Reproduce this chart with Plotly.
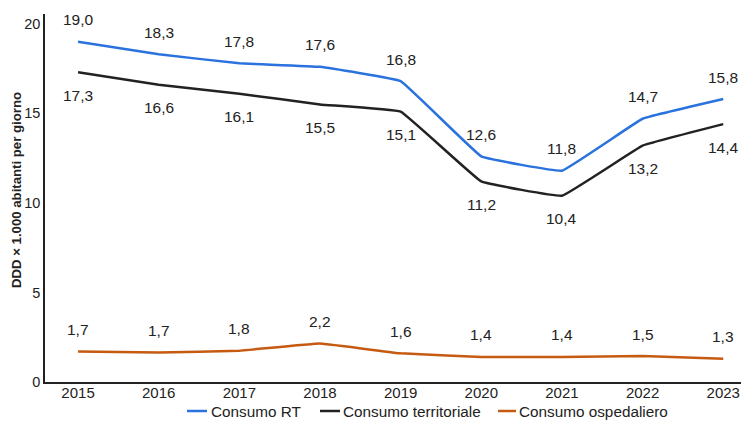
import plotly.graph_objects as go

years = [2015, 2016, 2017, 2018, 2019, 2020, 2021, 2022, 2023]
consumo_rt = [19.0, 18.3, 17.8, 17.6, 16.8, 12.6, 11.8, 14.7, 15.8]
consumo_territoriale = [17.3, 16.6, 16.1, 15.5, 15.1, 11.2, 10.4, 13.2, 14.4]
consumo_ospedaliero = [1.7, 1.65, 1.75, 2.15, 1.6, 1.4, 1.4, 1.45, 1.3]
labels_rt = ["19,0", "18,3", "17,8", "17,6", "16,8", "12,6", "11,8", "14,7", "15,8"]
labels_terr = ["17,3", "16,6", "16,1", "15,5", "15,1", "11,2", "10,4", "13,2", "14,4"]
labels_osp = ["1,7", "1,7", "1,8", "2,2", "1,6", "1,4", "1,4", "1,5", "1,3"]
y_ticks = [0, 5, 10, 15, 20]

FONT = "Liberation Sans, Arial, sans-serif"
TXT = "#222222"
series = [
    ("Consumo RT", consumo_rt, labels_rt, "#2a72de", 22),
    ("Consumo territoriale", consumo_territoriale, labels_terr, "#222222", -23),
    ("Consumo ospedaliero", consumo_ospedaliero, labels_osp, "#c55a11", 22),
]

# plot area in page pixels (page body adds 8px offset; margins compensate)
PX_L, PX_R, PX_T, PX_B = 45, 745, 14, 382
def px_x(p):
    return (p - PX_L) / (PX_R - PX_L)
def px_y(p):
    return (PX_B - p) / (PX_B - PX_T)

fig = go.Figure()
annotations = []
shapes = []
for name, vals, labs, color, shift in series:
    fig.add_trace(go.Scatter(
        x=years, y=vals, mode="lines", name=name, showlegend=False,
        line=dict(color=color, width=2.5, shape="spline", smoothing=0.2),
        hoverinfo="skip",
    ))
    for x, y, t in zip(years, vals, labs):
        annotations.append(dict(x=x, y=y, text=t, showarrow=False, yshift=shift,
                                font=dict(family=FONT, size=15.5, color=TXT)))

# legend drawn below the axis
legend_pos = [(187, 207, 210), (320, 340, 342), (498, 516, 518)]
leg_y = px_y(411)
for (name, _, _, color, _), (s0, s1, t0) in zip(series, legend_pos):
    shapes.append(dict(type="line", xref="paper", yref="paper",
                       x0=px_x(s0), x1=px_x(s1), y0=leg_y, y1=leg_y,
                       line=dict(color=color, width=2.5)))
    annotations.append(dict(xref="paper", yref="paper", x=px_x(t0 - 1), y=leg_y,
                            xanchor="left", yanchor="middle", text=name, showarrow=False,
                            font=dict(family=FONT, size=15.3, color=TXT)))

# y-axis title
annotations.append(dict(xref="paper", yref="paper", x=px_x(16), y=px_y(190),
                        text="<b>DDD × 1.000 abitanti per giorno</b>", textangle=-90,
                        showarrow=False, xanchor="center", yanchor="middle",
                        font=dict(family=FONT, size=13.2, color=TXT)))

fig.update_layout(
    width=749, height=421,
    margin=dict(l=37, r=12, t=6, b=47, autoexpand=False),
    paper_bgcolor="white", plot_bgcolor="white",
    font=dict(family=FONT, size=14, color=TXT),
    annotations=annotations,
    shapes=shapes,
    showlegend=False,
    xaxis=dict(range=[2014.59, 2023.27], tickvals=years, ticktext=[str(y) for y in years],
               showgrid=False, zeroline=False, showline=True, linecolor=TXT, linewidth=1.5,
               ticks="", tickfont=dict(size=15), automargin=False, ticklabelstandoff=-4),
    yaxis=dict(range=[0, 20.55], tickvals=y_ticks, ticktext=[str(v) for v in y_ticks],
               showgrid=False, zeroline=False, showline=True, linecolor=TXT, linewidth=1.5,
               ticks="", tickfont=dict(size=14.5), automargin=False),
)

fig.write_html("out.html")
